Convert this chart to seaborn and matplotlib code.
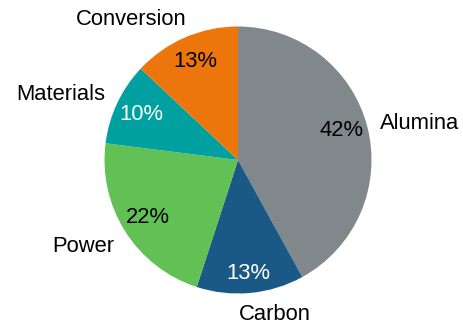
import matplotlib
matplotlib.use("Agg")
import matplotlib.pyplot as plt
import seaborn as sns

# Share of emissions by source, drawn clockwise from 12 o'clock
categories = ["Alumina", "Carbon", "Power", "Materials", "Conversion"]
shares = [42, 13, 22, 10, 13]
slice_colors = ["#80888c", "#1a5886", "#62c155", "#00a0a0", "#ec760c"]
pct_text_colors = ["black", "white", "black", "white", "black"]
# small nudges (in radius units) applied to the outer category labels
label_nudges = [(0.0, 0.0), (-0.1, -0.06), (0.0, -0.06), (0.0, 0.02), (0.05, 0.04)]
pct_nudges = [(0.0, 0.02), (0.0, -0.05), (0.0, 0.0), (0.0, 0.0), (0.0, 0.0)]

sns.set_theme(style="white")
plt.rcParams["font.family"] = ["Liberation Sans", "DejaVu Sans"]

W, H, DPI = 463, 322, 100
fig = plt.figure(figsize=(W / DPI, H / DPI), dpi=DPI)
fig.patch.set_facecolor("white")

cx, cy, r = 238, 162, 133.5
ax = fig.add_axes([(cx - r) / W, (cy - r) / H, 2 * r / W, 2 * r / H])

palette = sns.color_palette(slice_colors)
wedges, texts, autotexts = ax.pie(
    shares,
    labels=categories,
    colors=palette,
    startangle=90,
    counterclock=False,
    autopct=lambda p: f"{p:.0f}%",
    pctdistance=0.8,
    labeldistance=1.1,
    radius=1.0,
    wedgeprops=dict(linewidth=0),
    textprops=dict(fontsize=15.8, color="black"),
)
for t, (dx, dy) in zip(texts, label_nudges):
    x, y = t.get_position()
    t.set_position((x + dx, y + dy))
for t, c, (dx, dy) in zip(autotexts, pct_text_colors, pct_nudges):
    t.set_color(c)
    t.set_fontsize(15.8)
    x, y = t.get_position()
    t.set_position((x + dx, y + dy))

ax.set_xlim(-1, 1)
ax.set_ylim(-1, 1)
ax.set_aspect("equal")
ax.axis("off")

fig.savefig("out.png", dpi=DPI, facecolor="white")
